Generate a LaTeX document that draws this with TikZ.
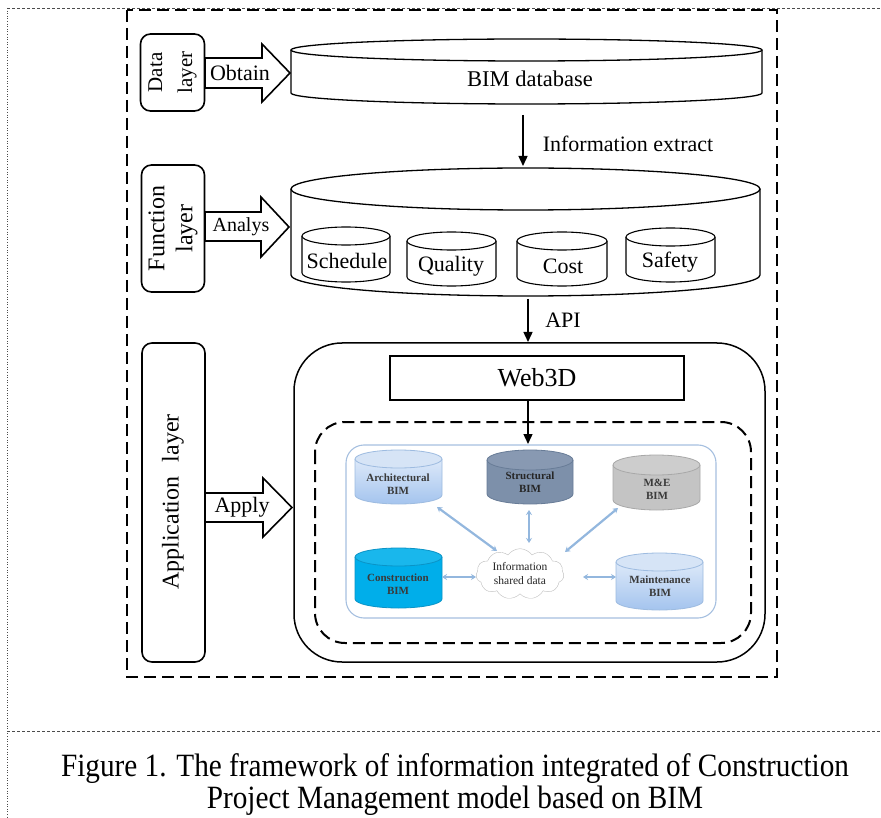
\documentclass[tikz,border=0pt]{standalone}
\usepackage{fontspec}
\setmainfont{Liberation Serif}
\newfontfamily\capfont[FakeStretch=0.9]{Liberation Serif}
\usetikzlibrary{arrows.meta,shapes.symbols}
\definecolor{archtop}{HTML}{DDE9F9}
\definecolor{archbot}{HTML}{A4C4EE}
\definecolor{archedge}{HTML}{9DBBE0}
\definecolor{archlid}{HTML}{D6E4F6}
\definecolor{structbody}{HTML}{7D90AA}
\definecolor{structlid}{HTML}{8899B2}
\definecolor{structedge}{HTML}{687C97}
\definecolor{mebody}{HTML}{C4C4C4}
\definecolor{melid}{HTML}{CDCDCD}
\definecolor{meedge}{HTML}{A8A8A8}
\definecolor{conbody}{HTML}{00AEEA}
\definecolor{conlid}{HTML}{19B7EC}
\definecolor{conedge}{HTML}{0A93C6}
\definecolor{paneledge}{HTML}{A6C0E0}
\definecolor{bimarr}{HTML}{93B7DE}
\definecolor{bimtext}{HTML}{3A3A3A}
\newcommand\drawcyl[7]{%
  \pgfmathsetmacro\cylrx{(#3-#2)/2}%
  \pgfmathsetmacro\cylxc{(#3+#2)/2}%
  \path[#1] (#2,#4) -- (#2,#5) arc[start angle=180,end angle=0,x radius=\cylrx,y radius=#6] -- (#3,#4);
  \path[#7] (\cylxc,#4) ellipse[x radius=\cylrx,y radius=#6];}
\begin{document}
\begin{tikzpicture}[x=1pt,y=-1pt,
  layerbox/.style={draw,line width=1.6pt,rounded corners=10pt,inner sep=0pt},
  blockarr/.style={draw,line width=1.6pt,fill=white,line join=miter},
  cylw/.style={draw,line width=1.3pt,fill=white},
  flow/.style={line width=1.4pt,-{Triangle[length=10pt,width=9pt]}},
  bigdash/.style={line width=2pt,dash pattern=on 12pt off 6pt},
  pageline/.style={line width=0.6pt,black!70},
  bimarrow/.style={line width=2.2pt,bimarr,{Stealth[length=5pt,width=6pt]}-{Stealth[length=5pt,width=6pt]}},
  bimlabel/.style={font=\fontsize{11}{13}\selectfont\bfseries,text=bimtext,align=center,inner sep=0pt},
  txt/.style={inner sep=0pt}
]
\useasboundingbox (0,0) rectangle (881,818);
% page frame lines
\draw[pageline,dotted] (7,8) -- (7,818);
\draw[pageline,dash pattern=on 3pt off 2pt] (7,8) -- (881,8);
\draw[pageline,dash pattern=on 3pt off 2pt] (7,731) -- (881,731);
% outer dashed frame
\draw[bigdash] (127,10) rectangle (777,677);

% ===== Data layer =====
\node[layerbox,minimum width=64pt,minimum height=77pt] (datalayer) at (172.5,72.5) {};
\node[txt,rotate=90,align=center,font=\fontsize{21}{30}\selectfont] (datatext) at (datalayer) {Data\\layer};
\path[blockarr] (205,58) -- (262,58) -- (262,44) -- (290,73) -- (262,102) -- (262,88) -- (205,88) -- cycle;
\node[txt,font=\fontsize{22}{26}\selectfont] (obtain) at (240,73) {Obtain};
\drawcyl{cylw}{291}{762}{50}{93}{11}{cylw}
\node[txt,font=\fontsize{22.5}{26}\selectfont] (bimdb) at (530,79) {BIM database};

% Information extract
\coordinate (ie1) at (523,115);
\coordinate (ie2) at (523,166);
\draw[flow] (ie1) -- (ie2);
\node[txt,font=\fontsize{22}{26}\selectfont] (ietext) at (628,144) {Information extract};

% ===== Function layer =====
\node[layerbox,minimum width=63pt,minimum height=127pt] (funclayer) at (173,228.5) {};
\node[txt,rotate=90,align=center,font=\fontsize{24}{28}\selectfont] (functext) at (funclayer) {Function\\layer};
\path[blockarr] (205,212) -- (261,212) -- (261,197) -- (289,227) -- (261,257) -- (261,241) -- (205,241) -- cycle;
\node[txt,font=\fontsize{20}{24}\selectfont] (analys) at (241,227) {Analys};
\drawcyl{cylw}{291}{760}{189}{275}{21}{cylw}
\drawcyl{cylw,line width=1.1pt}{302}{390}{236}{273}{9}{cylw,line width=1.1pt}
\drawcyl{cylw,line width=1.1pt}{407}{496}{241}{277}{9}{cylw,line width=1.1pt}
\drawcyl{cylw,line width=1.1pt}{517}{607}{241}{277}{9}{cylw,line width=1.1pt}
\drawcyl{cylw,line width=1.1pt}{626}{715}{237}{273}{9}{cylw,line width=1.1pt}
\node[txt,font=\fontsize{22}{26}\selectfont] (schedule) at (347,261) {Schedule};
\node[txt,font=\fontsize{22}{26}\selectfont] (quality) at (451,266) {Quality};
\node[txt,font=\fontsize{22}{26}\selectfont] (cost) at (563,266) {Cost};
\node[txt,font=\fontsize{22}{26}\selectfont] (safety) at (670,262) {Safety};

% API
\coordinate (api1) at (528,299);
\coordinate (api2) at (528,342);
\draw[flow] (api1) -- (api2);
\node[txt,font=\fontsize{22}{26}\selectfont] (apitext) at (563,320) {API};

% ===== Application layer =====
\node[layerbox,minimum width=63pt,minimum height=319pt] (applayer) at (173.5,502.5) {};
\node[txt,rotate=90,font=\fontsize{24}{28}\selectfont] (apptext) at (173,502) {Application\hspace{0.35em} layer};
\path[blockarr] (205,493) -- (263,493) -- (263,478) -- (292,507.5) -- (263,537) -- (263,522) -- (205,522) -- cycle;
\node[txt,font=\fontsize{22}{26}\selectfont] (apply) at (242,507) {Apply};

\draw[line width=1.5pt,rounded corners=48pt] (294,343) rectangle (765,662);
\node[draw,line width=2pt,minimum width=294pt,minimum height=44pt,inner sep=0pt,font=\fontsize{26}{30}\selectfont] (web3d) at (537,378) {Web3D};
\coordinate (w1) at (528,400);
\coordinate (w2) at (528,444);
\draw[flow] (w1) -- (w2);
\draw[bigdash,rounded corners=30pt] (315,422) rectangle (751,643);
\draw[paneledge,line width=1.1pt,fill=white,rounded corners=18pt] (346,445) rectangle (716,618);

% BIM cylinders
\drawcyl{draw=archedge,line width=0.8pt,top color=archtop,bottom color=archbot}{355}{442}{459}{495}{9}{draw=archedge,line width=0.8pt,fill=archlid}
\drawcyl{draw=structedge,line width=0.8pt,fill=structbody}{487}{573}{460}{494}{10}{draw=structedge,line width=0.8pt,fill=structlid}
\drawcyl{draw=meedge,line width=0.8pt,fill=mebody}{613}{700}{465}{500}{10}{draw=meedge,line width=0.8pt,fill=melid}
\drawcyl{draw=conedge,line width=0.8pt,fill=conbody}{355}{442}{557}{599}{9}{draw=conedge,line width=0.8pt,fill=conlid}
\drawcyl{draw=archedge,line width=0.8pt,top color=archtop,bottom color=archbot}{616}{703}{562}{601}{9}{draw=archedge,line width=0.8pt,fill=archlid}
\node[bimlabel] (arch) at (398,484) {Architectural\\BIM};
\node[bimlabel,text=black!85] (struct) at (530,482) {Structural\\BIM};
\node[bimlabel] (me) at (657,489) {M\&E\\BIM};
\node[bimlabel] (constr) at (398,584) {Construction\\BIM};
\node[bimlabel] (maint) at (660,586) {Maintenance\\BIM};

\node[cloud,cloud puffs=11,cloud puff arc=110,aspect=1.9,draw=black!25,fill=white,
      minimum width=88pt,minimum height=48pt,inner sep=0pt,align=center,
      font=\fontsize{11.5}{14}\selectfont,text=black!85] (cloud) at (520,574) {Information\\shared data};

\coordinate (archA) at (437,507);
\coordinate (archB) at (497,551);
\coordinate (strA) at (529,510);
\coordinate (strB) at (529,543);
\coordinate (meA) at (618,508);
\coordinate (meB) at (565,552);
\coordinate (conA) at (442,577);
\coordinate (conB) at (476,577);
\coordinate (mtA) at (583,577);
\coordinate (mtB) at (616,577);
\draw[bimarrow] (archA) -- (archB);
\draw[bimarrow] (strA) -- (strB);
\draw[bimarrow] (meA) -- (meB);
\draw[bimarrow] (conA) -- (conB);
\draw[bimarrow] (mtA) -- (mtB);

% caption
\node[txt,align=center,font=\capfont\fontsize{32.5}{32}\selectfont] (caption) at (455,785) {Figure 1. The framework of information integrated of Construction\\Project Management model based on BIM};
\end{tikzpicture}
\end{document}
